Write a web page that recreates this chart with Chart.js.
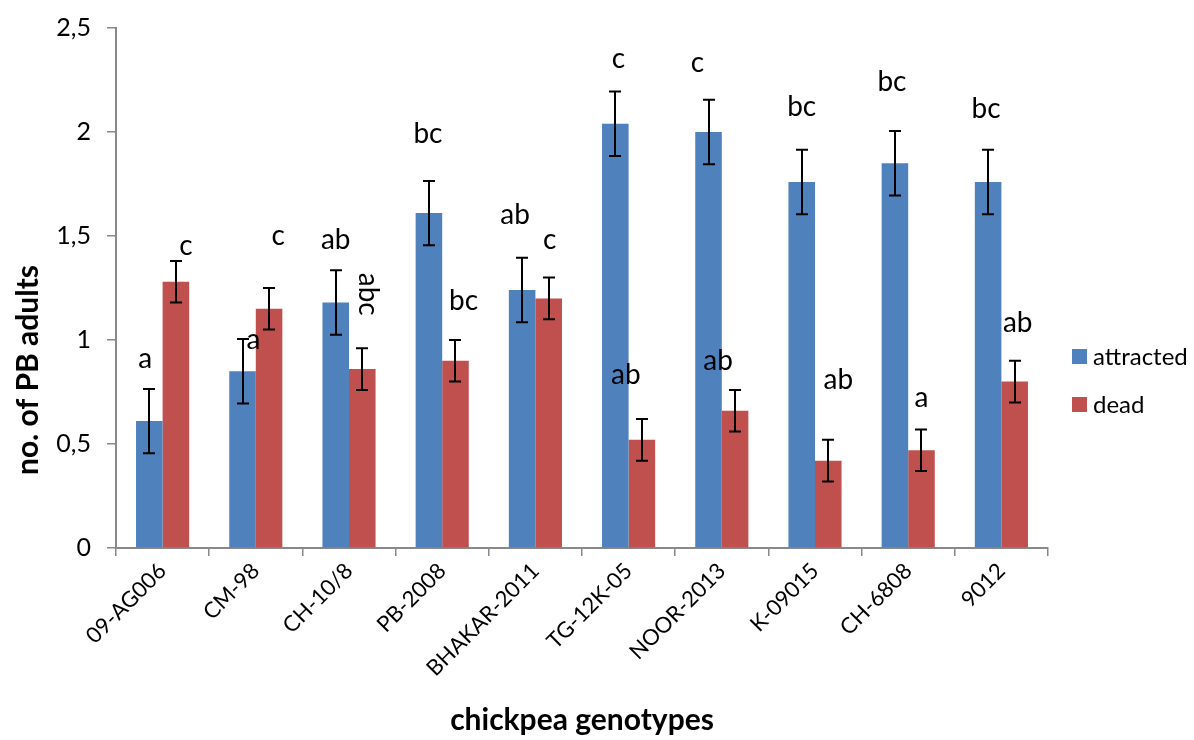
<!DOCTYPE html>
<html>
<head>
<meta charset="utf-8">
<script src="https://cdn.jsdelivr.net/npm/chart.js@4.4.0/dist/chart.umd.js"></script>
<style>
  html, body { margin: 0; padding: 0; background: #fff; }
  #wrap { width: 1194px; height: 740px; position: relative; }
</style>
</head>
<body>
<div id="wrap"><canvas id="chart"></canvas></div>
<script>
// chart data
const genotypes = ['09-AG006', 'CM-98', 'CH-10/8', 'PB-2008', 'BHAKAR-2011',
    'TG-12K-05', 'NOOR-2013', 'K-09015', 'CH-6808', '9012'];
const attracted = [0.61, 0.85, 1.18, 1.61, 1.24, 2.04, 2.00, 1.76, 1.85, 1.76];
const dead = [1.28, 1.15, 0.86, 0.90, 1.20, 0.52, 0.66, 0.42, 0.47, 0.80];
const attractedErr = [0.155, 0.155, 0.155, 0.155, 0.155, 0.155, 0.155, 0.155, 0.155, 0.155];
const deadErr = [0.10, 0.10, 0.10, 0.10, 0.10, 0.10, 0.10, 0.10, 0.10, 0.10];
// significance letters and the height (in y units) where each one sits
const attractedLetters = ['a', 'a', 'ab', 'bc', 'ab', 'c', 'c', 'bc', 'bc', 'bc'];
const deadLetters = ['c', 'c', 'abc', 'bc', 'c', 'ab', 'ab', 'ab', 'a', 'ab'];
const attractedLetterY = [0.91, 1.00, 1.48, 1.99, 1.60, 2.35, 2.33, 2.12, 2.24, 2.11];
const deadLetterY = [1.45, 1.50, 1.22, 1.19, 1.48, 0.83, 0.90, 0.81, 0.72, 1.08];
const yTicks = [0, 0.5, 1, 1.5, 2, 2.5];

const FONT = 'Lato, "Open Sans", sans-serif';
const AXIS_GREY = '#888888';

const errorBars = {
    id: 'errorBars',
    afterDatasetsDraw(chart) {
        const ctx = chart.ctx;
        const y = chart.scales.y;
        const errs = [attractedErr, deadErr];
        ctx.save();
        ctx.strokeStyle = '#000';
        ctx.lineWidth = 2;
        chart.data.datasets.forEach((ds, d) => {
            chart.getDatasetMeta(d).data.forEach((bar, i) => {
                const top = y.getPixelForValue(ds.data[i] + errs[d][i]);
                const bot = y.getPixelForValue(ds.data[i] - errs[d][i]);
                const x = Math.round(bar.x);
                ctx.beginPath();
                ctx.moveTo(x, top); ctx.lineTo(x, bot);
                ctx.moveTo(x - 6, top); ctx.lineTo(x + 6, top);
                ctx.moveTo(x - 6, bot); ctx.lineTo(x + 6, bot);
                ctx.stroke();
            });
        });
        ctx.restore();
    }
};

const letterLabels = {
    id: 'letterLabels',
    afterDatasetsDraw(chart, args, opts) {
        const ctx = chart.ctx;
        const y = chart.scales.y;
        const letters = [attractedLetters, deadLetters];
        const heights = [attractedLetterY, deadLetterY];
        ctx.save();
        ctx.fillStyle = '#000';
        ctx.font = '28px ' + FONT;
        ctx.textAlign = 'center';
        ctx.textBaseline = 'middle';
        chart.data.datasets.forEach((ds, d) => {
            chart.getDatasetMeta(d).data.forEach((bar, i) => {
                const px = bar.x + opts.nudge[d][i];
                const py = y.getPixelForValue(heights[d][i]);
                if (d === 1 && i === 2) {
                    // this one is written sideways in the original
                    ctx.save();
                    ctx.translate(px, py);
                    ctx.rotate(Math.PI / 2);
                    ctx.fillText(letters[d][i], 0, 0);
                    ctx.restore();
                } else {
                    ctx.fillText(letters[d][i], px, py);
                }
            });
        });
        ctx.restore();
    }
};

const sideBits = {
    id: 'sideBits',
    afterDraw(chart) {
        const ctx = chart.ctx;
        ctx.save();
        // y axis title
        ctx.translate(28, 370);
        ctx.rotate(-Math.PI / 2);
        ctx.font = 'bold 30px ' + FONT;
        ctx.fillStyle = '#000';
        ctx.textAlign = 'center';
        ctx.textBaseline = 'middle';
        ctx.fillText('no. of PB adults', 0, 0);
        ctx.restore();

        // legend
        ctx.save();
        ctx.font = '24px ' + FONT;
        ctx.textBaseline = 'middle';
        chart.data.datasets.forEach((ds, d) => {
            const top = 349 + d * 48;
            ctx.fillStyle = ds.backgroundColor;
            ctx.fillRect(1072, top, 15, 15);
            ctx.fillStyle = '#000';
            ctx.fillText(ds.label, 1093, top + 8);
        });
        ctx.restore();
    }
};

new Chart(document.getElementById('chart'), {
    type: 'bar',
    data: {
        labels: genotypes,
        datasets: [
            { label: 'attracted', data: attracted, backgroundColor: '#4F81BD' },
            { label: 'dead', data: dead, backgroundColor: '#C0504D' }
        ]
    },
    options: {
        responsive: true,
        maintainAspectRatio: false,
        animation: false,
        datasets: { bar: { categoryPercentage: 0.57, barPercentage: 1.0 } },
        layout: { padding: { left: 0, right: 146, top: 28, bottom: 0 } },
        plugins: {
            legend: { display: false },
            tooltip: { enabled: false },
            letterLabels: {
                nudge: [
                    [-4, 11, 0, -1, -7, 3, -11, 0, -3, -2],
                    [10, 9, 6, 8, 1, -16, -17, 10, 0, 3]
                ]
            }
        },
        scales: {
            x: {
                afterFit(scale) { scale.height = 192; },
                grid: {
                    drawOnChartArea: false,
                    tickLength: 8,
                    color: AXIS_GREY,
                    lineWidth: 1.5
                },
                border: { color: AXIS_GREY, width: 2 },
                ticks: {
                    maxRotation: 45,
                    minRotation: 45,
                    color: '#000',
                    font: { family: FONT, size: 22 },
                    padding: 2
                },
                title: {
                    display: true,
                    text: 'chickpea genotypes',
                    color: '#000',
                    font: { family: FONT, size: 30, weight: 'bold' },
                    padding: { top: 0, bottom: 2 }
                }
            },
            y: {
                min: 0,
                max: 2.5,
                afterFit(scale) { scale.width = 116; scale.paddingTop = 0; },
                afterBuildTicks(scale) { scale.ticks = yTicks.map(v => ({ value: v })); },
                grid: {
                    drawOnChartArea: false,
                    tickLength: 9,
                    color: AXIS_GREY,
                    lineWidth: 1.5
                },
                border: { color: AXIS_GREY, width: 2 },
                ticks: {
                    color: '#000',
                    padding: 16,
                    font: { family: FONT, size: 25 },
                    callback: v => String(v).replace('.', ',')
                }
            }
        }
    },
    plugins: [errorBars, letterLabels, sideBits]
});
</script>
</body>
</html>
